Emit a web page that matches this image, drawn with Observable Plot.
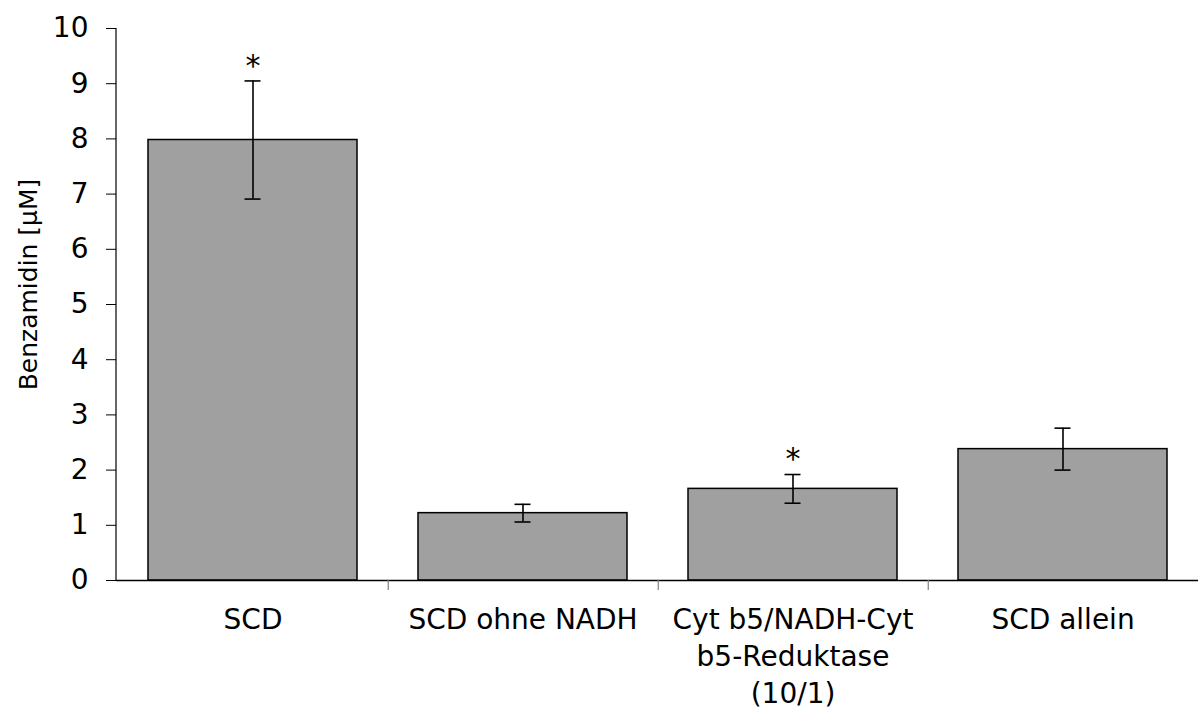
<!DOCTYPE html>
<html>
<head>
<meta charset="utf-8">
<script src="https://cdn.jsdelivr.net/npm/d3@7"></script>
<script src="https://cdn.jsdelivr.net/npm/@observablehq/plot@0.6"></script>
<style>
  html, body { margin: 0; padding: 0; background: #fff; }
</style>
</head>
<body>
<div id="chart"></div>
<script>
const categories = ["SCD", "SCD ohne NADH", "Cyt b5/NADH-Cyt\nb5-Reduktase\n(10/1)", "SCD allein"];
const means = [7.98, 1.22, 1.66, 2.38];
const errors = [1.07, 0.16, 0.26, 0.38];
const marks = ["*", "", "*", ""];
const yTicks = [0, 1, 2, 3, 4, 5, 6, 7, 8, 9, 10];
const yLabel = "Benzamidin [µM]";

const data = categories.map((c, i) => ({cat: c, v: means[i], e: errors[i], m: marks[i]}));

const W = 1198, H = 713, ML = 116, MR = 0;
const step = (W - ML - MR) / categories.length;

const chart = Plot.plot({
  width: W,
  height: H,
  marginTop: 28,
  marginBottom: 133,
  marginLeft: ML,
  marginRight: MR,
  style: {fontFamily: "'DejaVu Sans', Verdana, sans-serif", fontSize: "28px", background: "#fff", color: "#000"},
  x: {domain: categories, paddingInner: 0.227, paddingOuter: 0.1135, axis: null},
  y: {domain: [0, 10], axis: null},
  marks: [
    Plot.barY(data, {x: "cat", y: "v", fill: "#a0a0a0", stroke: "#000", strokeWidth: 1.5}),
    Plot.ruleX(data, {x: "cat", y1: d => d.v - d.e, y2: d => d.v + d.e, stroke: "#000", strokeWidth: 1.6}),
    Plot.tickY(data, {x: "cat", y: d => d.v + d.e, insetLeft: 96.5, insetRight: 96.5, stroke: "#000", strokeWidth: 1.6}),
    Plot.tickY(data, {x: "cat", y: d => d.v - d.e, insetLeft: 96.5, insetRight: 96.5, stroke: "#000", strokeWidth: 1.6}),
    Plot.text(data.filter(d => d.m), {x: "cat", y: d => d.v + d.e, text: "m", lineAnchor: "middle", dy: -15, fontSize: 30}),
    Plot.axisY(yTicks, {tickSize: 10, tickPadding: 18, fontSize: 28, label: null, stroke: "#000", tickFormat: d => String(d)}),
    Plot.ruleY([0], {stroke: "#000", strokeWidth: 1.5}),
    Plot.ruleX(categories.slice(0, 3), {x: d => d, y1: 0, y2: 0, insetBottom: -10, dx: step / 2, stroke: "#808080", strokeWidth: 1.2}),
    Plot.text(categories, {x: d => d, frameAnchor: "bottom", lineAnchor: "top", dy: 22, lineHeight: 1.32, fontSize: 28}),
    Plot.text([yLabel], {frameAnchor: "left", textAnchor: "middle", rotate: -90, dx: -88, dy: -20, fontSize: 25})
  ]
});

// y-axis line along the left edge of the frame, using the scale's own range
const yr = chart.scale("y").range;
const svg = d3.select(chart);
svg.append("line")
  .attr("x1", ML).attr("x2", ML)
  .attr("y1", yr[0]).attr("y2", yr[1])
  .attr("stroke", "#000").attr("stroke-width", 1.2);

document.getElementById("chart").appendChild(chart);
</script>
</body>
</html>
